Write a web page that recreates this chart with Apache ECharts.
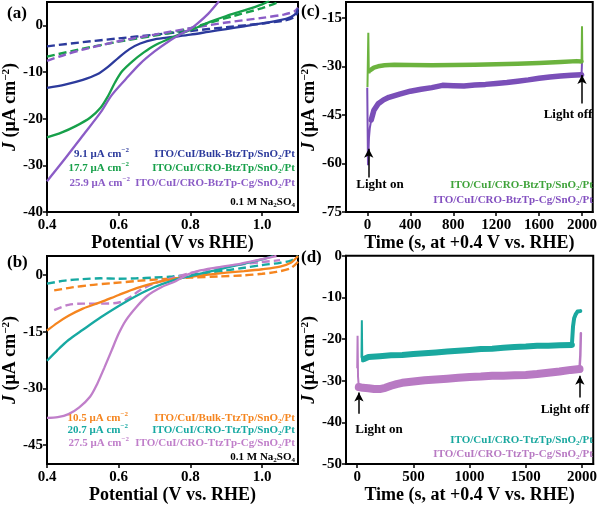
<!DOCTYPE html>
<html><head><meta charset="utf-8">
<script src="https://cdn.jsdelivr.net/npm/echarts@6/dist/echarts.min.js"></script>
<style>html,body{margin:0;padding:0;background:#fff}#c{width:600px;height:505px}</style>
</head><body><div id="c"></div>
<script>
// ---------- Panel (a): LSV, BtzTp ----------
const aBlueSolid = [[0.40,-13.4],[0.45,-12.7],[0.50,-11.7],[0.54,-10.5],[0.57,-8.9],[0.60,-6.9],[0.63,-5.1],[0.66,-3.9],[0.70,-3.0],[0.75,-2.5],[0.80,-2.0],[0.85,-1.4],[0.90,-0.8],[0.95,-0.2],[1.00,0.4],[1.05,1.1],[1.08,1.8],[1.095,2.6],[1.10,3.6]];
const aGreenSolid = [[0.40,-24.0],[0.44,-23.0],[0.48,-21.6],[0.52,-19.8],[0.55,-17.6],[0.57,-15.2],[0.59,-12.2],[0.61,-9.8],[0.64,-7.6],[0.67,-5.8],[0.70,-4.3],[0.74,-2.9],[0.78,-1.6],[0.82,-0.4],[0.86,0.9],[0.90,2.0],[0.95,3.2],[1.00,4.5],[1.02,5.2]];
const aPurpleSolid = [[0.40,-33.4],[0.45,-28.6],[0.50,-23.6],[0.55,-18.6],[0.58,-15.0],[0.62,-11.5],[0.66,-8.2],[0.70,-5.6],[0.74,-3.4],[0.78,-1.6],[0.80,-0.8],[0.82,0.4],[0.85,2.5],[0.88,5.2]];
const aBlueDash = [[0.40,-4.5],[0.50,-3.6],[0.60,-2.8],[0.70,-2.0],[0.80,-1.2],[0.90,-0.4],[1.00,0.4],[1.06,1.0],[1.09,1.8],[1.10,3.0]];
const aGreenDash = [[0.40,-6.7],[0.50,-5.0],[0.60,-3.5],[0.70,-2.2],[0.78,-1.0],[0.85,0.5],[0.92,2.0],[1.00,3.7],[1.04,4.8]];
const aPurpleDash = [[0.40,-7.6],[0.45,-6.3],[0.50,-5.2],[0.60,-3.4],[0.70,-2.0],[0.80,-0.6],[0.90,0.6],[1.00,1.6],[1.06,2.3],[1.09,3.0],[1.10,3.8]];

// ---------- Panel (b): LSV, TtzTp ----------
const bOrangeSolid = [[0.40,-14.7],[0.43,-12.6],[0.46,-10.8],[0.50,-8.9],[0.55,-7.2],[0.60,-5.3],[0.65,-3.5],[0.70,-2.1],[0.75,-1.1],[0.80,-0.5],[0.85,0.1],[0.90,0.6],[0.95,1.0],[1.00,1.5],[1.05,2.2],[1.08,3.2],[1.10,5.0]];
const bTealSolid = [[0.40,-22.7],[0.43,-19.8],[0.46,-17.2],[0.50,-14.5],[0.55,-11.2],[0.60,-8.2],[0.65,-5.5],[0.70,-3.2],[0.75,-1.5],[0.80,-0.3],[0.85,0.8],[0.90,1.9],[0.95,3.0],[1.00,4.1],[1.03,5.0]];
const bPinkSolid = [[0.40,-37.8],[0.43,-37.6],[0.46,-36.8],[0.49,-35.0],[0.52,-32.2],[0.54,-28.8],[0.56,-24.5],[0.58,-20.0],[0.60,-15.5],[0.62,-12.0],[0.65,-8.4],[0.68,-5.5],[0.72,-3.2],[0.76,-1.6],[0.79,0.0],[0.82,1.0],[0.87,1.9],[0.93,2.8],[0.98,3.8],[1.02,4.6],[1.04,5.0]];
const bTealDash = [[0.40,-2.3],[0.45,-1.5],[0.50,-1.1],[0.55,-0.9],[0.60,-1.0],[0.65,-0.9],[0.70,-0.7],[0.75,-0.4],[0.80,0.0],[0.85,0.6],[0.90,1.2],[0.95,1.9],[1.00,2.6],[1.05,3.2],[1.08,3.8],[1.10,5.0]];
const bOrangeDash = [[0.42,-4.1],[0.47,-3.3],[0.52,-2.7],[0.58,-2.2],[0.65,-1.6],[0.72,-1.1],[0.80,-0.7],[0.88,-0.4],[0.95,-0.1],[1.00,0.3],[1.04,0.8],[1.08,1.8],[1.10,3.5]];
const bPinkDash = [[0.42,-9.3],[0.46,-7.9],[0.50,-7.6],[0.55,-7.6],[0.60,-7.3],[0.63,-6.0],[0.66,-4.0],[0.70,-2.2],[0.75,-0.8],[0.80,0.5],[0.85,1.4],[0.90,2.2],[0.95,2.9],[1.00,3.4],[1.05,3.9]];

// ---------- Panel (c): i-t, BtzTp ----------
const cGreenOn = [[0,-36.3],[4,-36.5],[8,-19.5],[12,-30.5],[18,-32.0],[30,-31.0]];
const cGreenSteady = [[30,-31.0],[60,-30.3],[100,-29.9],[160,-29.6],[250,-29.4],[400,-29.5],[600,-29.6],[800,-29.5],[1000,-29.4],[1200,-29.3],[1400,-29.1],[1600,-28.9],[1800,-28.6],[1950,-28.3],[1996,-28.4]];
const cGreenOff = [[1996,-28.4],[2000,-17.5],[2003,-28.0]];
const cPurpleOn = [[-2,-36.5],[2,-37.0],[5,-60.5],[9,-57.0],[14,-52.0],[22,-49.0],[35,-46.5]];
const cPurpleSteady = [[35,-46.5],[60,-43.5],[100,-41.5],[150,-40.3],[200,-39.5],[300,-38.5],[400,-37.6],[500,-37.0],[600,-36.5],[700,-35.8],[800,-35.9],[900,-36.0],[1000,-35.7],[1100,-35.5],[1200,-35.2],[1300,-34.9],[1400,-34.5],[1500,-34.1],[1600,-33.6],[1700,-33.2],[1800,-32.9],[1900,-32.7],[1996,-32.5]];
const cPurpleOff = [[1996,-32.5],[2000,-28.5]];
const cArrowOn = [12, -64.3, -55.4];
const cArrowOff = [2000, -41.4, -32.6];

// ---------- Panel (d): i-t, TtzTp ----------
const dTealOn = [[38,-24.5],[41,-15.5],[45,-25.5],[60,-24.8]];
const dTealSteady = [[60,-24.8],[100,-24.3],[200,-24.1],[300,-23.9],[400,-23.8],[500,-23.6],[600,-23.4],[700,-23.2],[800,-23.0],[900,-22.8],[1000,-22.6],[1100,-22.4],[1200,-22.3],[1300,-22.1],[1400,-21.9],[1500,-21.8],[1600,-21.6],[1700,-21.6],[1800,-21.5],[1910,-21.4]];
const dTealOff = [[1910,-21.4],[1920,-17.0],[1930,-15.0],[1945,-14.0],[1960,-13.4],[1975,-13.0],[1985,-13.3]];
const dPinkOn = [[0,-27.0],[3,-19.2],[7,-29.0],[14,-31.5]];
const dPinkSteady = [[14,-31.5],[50,-31.7],[100,-31.8],[150,-32.0],[200,-32.0],[250,-31.7],[300,-31.2],[350,-30.8],[400,-30.5],[500,-30.2],[600,-29.9],[700,-29.7],[800,-29.5],[900,-29.3],[1000,-29.1],[1100,-29.0],[1200,-28.8],[1300,-28.8],[1400,-28.7],[1500,-28.6],[1600,-28.4],[1700,-28.1],[1800,-27.8],[1900,-27.4],[1978,-27.2]];
const dPinkOff = [[1978,-27.2],[1985,-24.0],[1990,-18.6]];
const dArrowOn = [15, -37.9, -32.8];
const dArrowOff = [1981, -34.0, -28.8];

// ---------- tick labels ----------
const lsvXTicks = [0.4, 0.6, 0.8, 1.0];
const aYTicks = [-40, -30, -20, -10, 0];
const bYTicks = [-45, -30, -15, 0];
const cXTicks = [0, 400, 800, 1200, 1600, 2000];
const cYTicks = [-75, -60, -45, -30, -15];
const dXTicks = [0, 500, 1000, 1500, 2000];
const dYTicks = [-50, -40, -30, -20, -10, 0];

const F = 'Liberation Serif';
const C = {
  blue:'#2c3a9c', green:'#17a04a', purple:'#8b5cc6',
  orange:'#f5851f', teal:'#17a9a2', pink:'#c07fca',
  cgreen:'#6cb33e', cpurple:'#7a4fb8', dteal:'#1aa89f', dpink:'#b87ac3'
};

const grids = [
  {left:47, top:2, width:251, height:210},
  {left:47, top:256, width:251, height:209},
  {left:346, top:2, width:252, height:210},
  {left:346, top:255.7, width:251, height:210}
];

function xAx(i, min, max, ticks, name) {
  return {type:'value', gridIndex:i, min, max,
    axisLine:{show:true, onZero:false, lineStyle:{color:'#000', width:2}},
    axisTick:{show:true, inside:false, length:4, lineStyle:{color:'#000', width:1.5}, customValues:ticks},
    axisLabel:{customValues:ticks, fontFamily:F, fontWeight:'bold', fontSize:15, color:'#000', margin:6,
      formatter: v => (max < 2 ? v.toFixed(1) : String(v))},
    splitLine:{show:false},
    name, nameLocation:'middle', nameGap:16,
    nameTextStyle:{fontFamily:F, fontWeight:'bold', fontSize:18, color:'#000'}};
}
const yName = '{i|J} (μA cm{p|−2})';
function yAx(i, min, max, ticks) {
  return {type:'value', gridIndex:i, min, max,
    axisLine:{show:true, onZero:false, lineStyle:{color:'#000', width:2}},
    axisTick:{show:true, inside:false, length:4, lineStyle:{color:'#000', width:1.5}, customValues:ticks},
    axisLabel:{customValues:ticks, fontFamily:F, fontWeight:'bold', fontSize:15, color:'#000', margin:4},
    splitLine:{show:false},
    name:yName, nameLocation:'middle', nameGap:25, nameRotate:90,
    nameTextStyle:{fontFamily:F, fontWeight:'bold', fontSize:18, color:'#000',
      rich:{i:{fontFamily:F, fontWeight:'bold', fontStyle:'italic', fontSize:18, color:'#000'},
            p:{fontFamily:F, fontWeight:'bold', fontSize:11, color:'#000', verticalAlign:'top'}}}};
}

function ln(i, data, color, opt) {
  return Object.assign({type:'line', xAxisIndex:i, yAxisIndex:i, data, showSymbol:false, symbol:'none',
    smooth:0.3, silent:true, animation:false, lineStyle:{color, width:2.3}, itemStyle:{color}}, opt || {});
}
function dash(i, data, color) { return ln(i, data, color, {lineStyle:{color, width:2.4, type:[8,4]}}); }
function band(i, data, color, w) { return ln(i, data, color, {smooth:false, lineStyle:{color, width:w, cap:'round', join:'round'}}); }
function thin(i, data, color) { return ln(i, data, color, {smooth:false, lineStyle:{color, width:2}}); }
function arrows(list) {
  return {silent:true, animation:false, symbol:['none','arrow'], symbolSize:[7,9], precision:3,
    lineStyle:{color:'#000', width:1.5, type:'solid'}, label:{show:false}, emphasis:{disabled:true},
    data:list.map(a => [{coord:[a[0], a[1]]}, {coord:[a[0], a[2]]}])};
}

const series = [
  dash(0, aBlueDash, C.blue), dash(0, aGreenDash, C.green), dash(0, aPurpleDash, C.purple),
  ln(0, aBlueSolid, C.blue), ln(0, aGreenSolid, C.green), ln(0, aPurpleSolid, C.purple),
  dash(1, bOrangeDash, C.orange), dash(1, bTealDash, C.teal), dash(1, bPinkDash, C.pink),
  ln(1, bOrangeSolid, C.orange), ln(1, bTealSolid, C.teal), ln(1, bPinkSolid, C.pink),
  band(2, cPurpleSteady, C.cpurple, 5.5), thin(2, cPurpleOff, C.cpurple),
  thin(2, cGreenOn, C.cgreen), band(2, cGreenSteady, C.cgreen, 4.5),
  Object.assign(thin(2, cPurpleOn, C.cpurple), {z:4}),
  Object.assign(thin(2, cGreenOff, C.cgreen), {markLine: arrows([cArrowOn, cArrowOff])}),
  thin(3, dPinkOn, C.dpink), band(3, dPinkSteady, C.dpink, 8), band(3, dPinkOff, C.dpink, 2.5),
  thin(3, dTealOn, C.dteal), band(3, dTealSteady, C.dteal, 6),
  Object.assign(band(3, dTealOff, C.dteal, 4), {markLine: arrows([dArrowOn, dArrowOff])})
];

function rich(size, color) {
  return {
    p:{fontSize:Math.round(size*0.68), fontFamily:F, fontWeight:'bold', fill:color, verticalAlign:'top'},
    s:{fontSize:Math.round(size*0.68), fontFamily:F, fontWeight:'bold', fill:color, verticalAlign:'bottom'}
  };
}
function txt(text, x, y, color, size, align) {
  return {type:'text', x, y, silent:true, z:10, style:{text, fill:color, fontFamily:F, fontWeight:'bold',
    fontSize:size, align:align || 'right', verticalAlign:'middle', lineHeight:size+3, rich:rich(size, color)}};
}
const graphics = [
  txt('(a)', 7, 14, '#000', 17, 'left'), txt('(b)', 7, 263, '#000', 17, 'left'),
  txt('(c)', 301, 12, '#000', 17, 'left'), txt('(d)', 301, 258, '#000', 17, 'left'),
  txt('9.1 μA cm{p|−2}', 129, 154, C.blue, 11), txt('17.7 μA cm{p|−2}', 129, 168, C.green, 11),
  txt('25.9 μA cm{p|−2}', 130, 183, C.purple, 11),
  txt('ITO/CuI/Bulk-BtzTp/SnO{s|2}/Pt', 295, 154, C.blue, 11),
  txt('ITO/CuI/CRO-BtzTp/SnO{s|2}/Pt', 295, 168, C.green, 11),
  txt('ITO/CuI/CRO-BtzTp-Cg/SnO{s|2}/Pt', 295, 183, C.purple, 11),
  txt('0.1 M Na{s|2}SO{s|4}', 295, 202, '#000', 11),
  txt('10.5 μA cm{p|−2}', 128, 418, C.orange, 11), txt('20.7 μA cm{p|−2}', 128, 430, C.teal, 11),
  txt('27.5 μA cm{p|−2}', 129, 443, C.pink, 11),
  txt('ITO/CuI/Bulk-TtzTp/SnO{s|2}/Pt', 295, 418, C.orange, 11),
  txt('ITO/CuI/CRO-TtzTp/SnO{s|2}/Pt', 295, 430, C.teal, 11),
  txt('ITO/CuI/CRO-TtzTp-Cg/SnO{s|2}/Pt', 295, 443, C.pink, 11),
  txt('0.1 M Na{s|2}SO{s|4}', 295, 457, '#000', 11),
  txt('ITO/CuI/CRO-BtzTp/SnO{s|2}/Pt', 593, 185, '#3fa33a', 11),
  txt('ITO/CuI/CRO-BtzTp-Cg/SnO{s|2}/Pt', 593, 200, '#8350c0', 11),
  txt('ITO/CuI/CRO-TtzTp/SnO{s|2}/Pt', 593, 440, C.dteal, 11),
  txt('ITO/CuI/CRO-TtzTp-Cg/SnO{s|2}/Pt', 593, 454, C.dpink, 11),
  txt('Light on', 380, 185, '#000', 13, 'center'), txt('Light off', 568, 115, '#000', 13, 'center'),
  txt('Light on', 379, 430, '#000', 13, 'center'), txt('Light off', 565, 410, '#000', 13, 'center')
];

const chart = echarts.init(document.getElementById('c'));
chart.setOption({
  animation:false, backgroundColor:'#fff',
  grid: grids.map(g => Object.assign({show:true, borderColor:'#000', borderWidth:2, backgroundColor:'transparent', containLabel:false}, g)),
  xAxis: [
    xAx(0, 0.4, 1.1, lsvXTicks, 'Potential (V vs RHE)'),
    xAx(1, 0.4, 1.1, lsvXTicks, 'Potential (V vs. RHE)'),
    xAx(2, -200, 2100, cXTicks, 'Time (s, at +0.4 V vs. RHE)'),
    xAx(3, -100, 2100, dXTicks, 'Time (s, at +0.4 V vs. RHE)')
  ],
  yAxis: [
    yAx(0, -40, 5, aYTicks), yAx(1, -50, 5, bYTicks), yAx(2, -75, -10, cYTicks), yAx(3, -50, 0, dYTicks)
  ],
  series, graphic: graphics
});
</script></body></html>
